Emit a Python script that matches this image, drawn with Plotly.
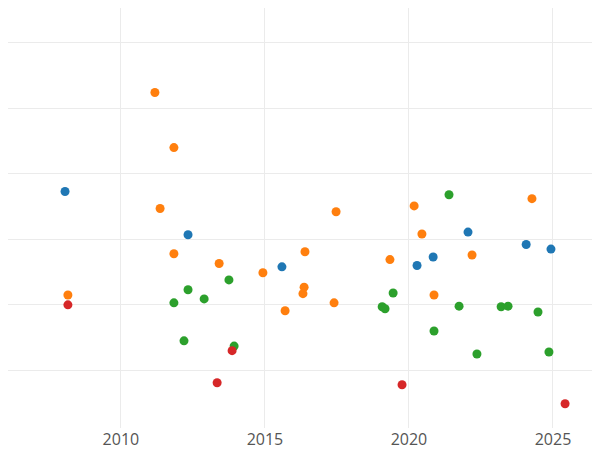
import plotly.graph_objects as go

blue_x = [2008.06, 2012.33, 2015.59, 2020.28, 2020.84, 2022.05, 2024.07, 2024.93]
blue_y = [1.73, 1.07, 0.58, 0.60, 0.73, 1.11, 0.92, 0.85]

orange_x = [2008.16, 2011.18, 2011.84, 2011.36, 2011.84, 2013.41, 2014.93, 2015.7, 2016.32, 2016.36,
            2016.39, 2017.4, 2017.47, 2019.34, 2020.18, 2020.45, 2020.87, 2022.19, 2024.27]
orange_y = [0.15, 3.24, 2.40, 1.47, 0.78, 0.63, 0.49, -0.09, 0.17, 0.27,
            0.81, 0.03, 1.42, 0.69, 1.51, 1.08, 0.15, 0.76, 1.62]

green_x = [2011.84, 2012.19, 2012.33, 2012.89, 2013.75, 2013.93, 2019.07, 2019.17, 2019.45,
           2020.87, 2021.39, 2021.74, 2022.36, 2023.2, 2023.44, 2024.48, 2024.86]
green_y = [0.03, -0.55, 0.23, 0.09, 0.38, -0.63, -0.03, -0.06, 0.18,
           -0.40, 1.68, -0.02, -0.75, -0.03, -0.02, -0.11, -0.72]

red_x = [2008.16, 2013.86, 2013.34, 2019.76, 2025.42]
red_y = [0.0, -0.70, -1.19, -1.22, -1.51]

fig = go.Figure()
for xs, ys, c in [(blue_x, blue_y, '#1f77b4'), (orange_x, orange_y, '#ff7f0e'),
                  (green_x, green_y, '#2ca02c'), (red_x, red_y, '#d62728')]:
    fig.add_trace(go.Scatter(x=xs, y=ys, mode='markers',
                             marker=dict(color=c, size=9)))

fig.update_layout(
    template='plotly_white',
    width=600, height=450,
    showlegend=False,
    margin=dict(l=0, r=0, t=0, b=30, pad=0),
    font=dict(family='Open Sans', size=16, color='#555'),
    xaxis=dict(range=[2006.08, 2026.91], tickvals=[2010, 2015, 2020, 2025],
               showgrid=True, gridcolor='#ebebeb', zeroline=False, automargin=False),
    yaxis=dict(range=[-1.88, 4.53], dtick=1, showticklabels=False,
               gridcolor='#ebebeb', zeroline=False, automargin=False),
)
fig.write_html("out.html")
